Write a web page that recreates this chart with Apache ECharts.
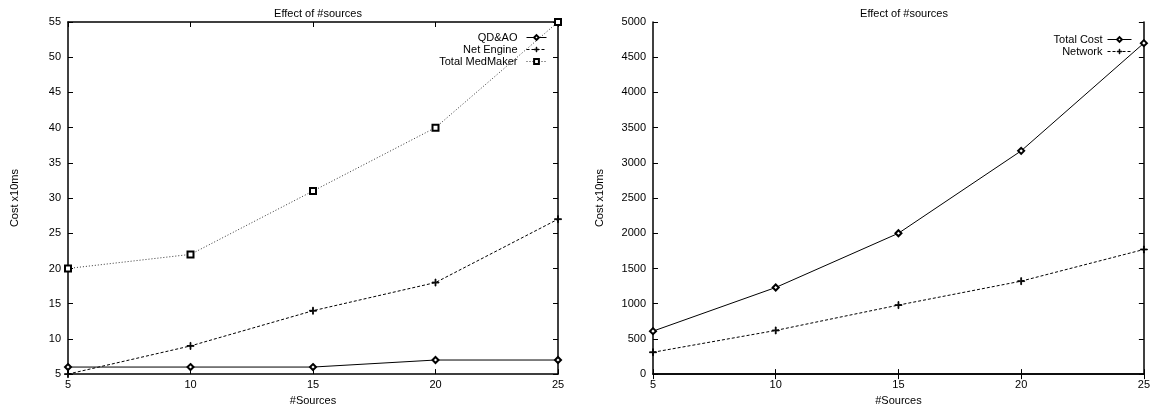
<!DOCTYPE html>
<html>
<head>
<meta charset="utf-8">
<script src="https://cdn.jsdelivr.net/npm/echarts@6/dist/echarts.min.js"></script>
<style>
  html, body { margin: 0; padding: 0; background: #fff; }
  #chart { width: 1153px; height: 411px; }
</style>
</head>
<body>
<div id="chart"></div>
<script>
// #sources on the x axis, shared by both plots
var sources = [5, 10, 15, 20, 25]

// left plot
var qdao = [6, 6, 6, 7, 7]
var netEngine = [5, 9, 14, 18, 27]
var totalMedMaker = [20, 22, 31, 40, 55]

// right plot
var totalCost = [610, 1230, 2000, 3170, 4700]
var network = [310, 620, 980, 1320, 1770]

var PLUS = 'path://M4.4,0H5.6V4.4H10V5.6H5.6V10H4.4V5.6H0V4.4H4.4Z'
var FONT = 'Liberation Sans, Arial, sans-serif'
var textStyle = { color: '#000', fontSize: 11, fontFamily: FONT }

function pairs (ys) {
  return sources.map(function (x, i) { return [x, ys[i]] })
}

function xAxes (gridIndex) {
  return [
    {
      type: 'value', gridIndex: gridIndex, min: 5, max: 25, interval: 5,
      name: '#Sources', nameLocation: 'middle', nameGap: 18, nameTextStyle: textStyle,
      axisLine: { show: true, lineStyle: { color: '#000', width: 1.5 } },
      axisTick: { inside: true, length: 5, lineStyle: { color: '#000' } },
      axisLabel: { color: '#000', fontSize: 11, fontFamily: FONT, margin: 5 },
      splitLine: { show: false }
    },
    {
      type: 'value', gridIndex: gridIndex, position: 'top', min: 5, max: 25, interval: 5,
      axisLine: { show: true, lineStyle: { color: '#000', width: 1.5 } },
      axisTick: { inside: true, length: 5, lineStyle: { color: '#000' } },
      axisLabel: { show: false },
      splitLine: { show: false }
    }
  ]
}

function yAxes (gridIndex, min, max, interval) {
  return [
    {
      type: 'value', gridIndex: gridIndex, min: min, max: max, interval: interval,
      name: 'Cost x10ms', nameLocation: 'middle', nameGap: 48, nameTextStyle: textStyle,
      axisLine: { show: true, lineStyle: { color: '#000', width: 1.5 } },
      axisTick: { inside: true, length: 5, lineStyle: { color: '#000' } },
      axisLabel: { color: '#000', fontSize: 11, fontFamily: FONT, margin: 7,
        formatter: function (v) { return String(v) } },
      splitLine: { show: false }
    },
    {
      type: 'value', gridIndex: gridIndex, position: 'right', min: min, max: max, interval: interval,
      axisLine: { show: true, lineStyle: { color: '#000', width: 1.5 } },
      axisTick: { inside: true, length: 5, lineStyle: { color: '#000' } },
      axisLabel: { show: false },
      splitLine: { show: false }
    }
  ]
}

function line (name, ys, xi, yi, symbol, size, dash, lineColor) {
  return {
    name: name, type: 'line', xAxisIndex: xi, yAxisIndex: yi,
    data: pairs(ys), symbol: symbol, symbolSize: size, clip: false,
    itemStyle: { color: '#000', borderColor: '#000', borderWidth: 0.9 },
    lineStyle: { color: lineColor || '#000', width: 1, type: dash },
    emphasis: { disabled: true }
  }
}

var legendBase = {
  orient: 'vertical', align: 'right', padding: 0,
  itemHeight: 6, itemGap: 1,
  lineStyle: { width: 1 },
  itemStyle: { borderWidth: 0.9 }
}

var chart = echarts.init(document.getElementById('chart'))
chart.setOption({
  animation: false,
  title: [
    { text: 'Effect of #sources', left: 313, top: 3, textAlign: 'center',
      textStyle: { color: '#000', fontSize: 11, fontWeight: 'normal', fontFamily: FONT } },
    { text: 'Effect of #sources', left: 899, top: 3, textAlign: 'center',
      textStyle: { color: '#000', fontSize: 11, fontWeight: 'normal', fontFamily: FONT } }
  ],
  legend: [
    Object.assign({}, legendBase, {
      data: ['QD&AO', 'Net Engine', 'Total MedMaker'],
      right: 606, top: 32, itemWidth: 20,
      textStyle: { color: '#000', fontSize: 11, fontFamily: FONT, padding: [0, 4, 0, 0], lineHeight: 11 }
    }),
    Object.assign({}, legendBase, {
      data: ['Total Cost', 'Network'],
      right: 21, top: 34, itemWidth: 24,
      textStyle: { color: '#000', fontSize: 11, fontFamily: FONT, lineHeight: 11 }
    })
  ],
  grid: [
    { left: 68, top: 22, width: 490, height: 358 },
    { left: 653, top: 22, width: 492, height: 358 }
  ],
  xAxis: xAxes(0).concat(xAxes(1)),
  yAxis: yAxes(0, 5, 55, 5).concat(yAxes(1, 0, 5000, 500)),
  series: [
    line('QD&AO', qdao, 0, 0, 'emptyDiamond', 6, 'solid'),
    line('Net Engine', netEngine, 0, 0, PLUS, 7, [3, 2]),
    line('Total MedMaker', totalMedMaker, 0, 0, 'emptyRect', 6, [1, 2], '#333'),
    line('Total Cost', totalCost, 2, 2, 'emptyDiamond', 6, 'solid'),
    line('Network', network, 2, 2, PLUS, 7, [3, 2])
  ]
})
</script>
</body>
</html>
